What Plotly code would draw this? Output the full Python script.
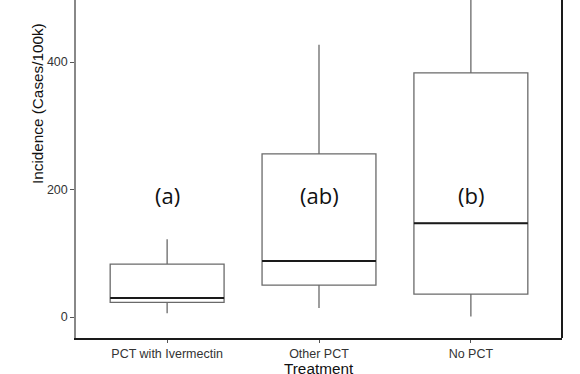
import plotly.graph_objects as go

categories = ["PCT with Ivermectin", "Other PCT", "No PCT"]
lower_whisker = [6, 14, 1]
q1_values = [23, 50, 36]
median_values = [30, 88, 147]
q3_values = [83, 256, 383]
upper_whisker = [122, 427, 560]
group_letters = ["(a)", "(ab)", "(b)"]
letter_y = [191, 191, 191]
y_ticks = [0, 200, 400]

fig = go.Figure()
fig.add_trace(go.Box(
    x=categories, q1=q1_values, median=median_values, q3=q3_values,
    lowerfence=lower_whisker, upperfence=upper_whisker,
    fillcolor="rgba(255,255,255,0)", line=dict(color="#6a6a6a", width=1.3),
    width=0.75, whiskerwidth=0, boxpoints=False, showlegend=False, hoverinfo="skip",
))
fig.add_trace(go.Box(
    x=categories, q1=median_values, median=median_values, q3=median_values,
    lowerfence=median_values, upperfence=median_values,
    fillcolor="rgba(255,255,255,0)", line=dict(color="#1a1a1a", width=2),
    width=0.75, whiskerwidth=0, boxpoints=False, showlegend=False, hoverinfo="skip",
))

for c, t, y in zip(categories, group_letters, letter_y):
    fig.add_annotation(x=c, y=y, text=t, showarrow=False,
                       font=dict(family="Open Sans", size=22, color="#111"))

# y-axis title (centred on the visible part of the original, taller panel)
fig.add_annotation(xref="paper", yref="paper", x=-39 / 486, y=1 - 104 / 338,
                   xanchor="center", yanchor="middle",
                   text="Incidence (Cases/100k)", textangle=-90, showarrow=False,
                   font=dict(family="Liberation Sans, Arial", size=15.3, color="#111"))
# x-axis title
fig.add_annotation(xref="paper", yref="paper", x=0.5, y=-30 / 338,
                   xanchor="center", yanchor="middle",
                   text="Treatment", showarrow=False,
                   font=dict(family="Liberation Sans, Arial", size=15.3, color="#111"))

fig.add_shape(type="line", xref="paper", yref="paper", x0=1, x1=1, y0=0, y1=1,
              line=dict(color="#1a1a1a", width=2))

fig.update_layout(
    width=580, height=374,
    margin=dict(l=76, r=18, t=0, b=36, autoexpand=False),
    paper_bgcolor="white", plot_bgcolor="white",
    boxmode="overlay",
    xaxis=dict(
        categoryorder="array", categoryarray=categories,
        range=[-0.6, 2.6], showgrid=False, zeroline=False,
        showline=True, linecolor="#1a1a1a", linewidth=2,
        ticks="outside", ticklen=3, tickcolor="#555", tickwidth=1,
        tickfont=dict(family="Liberation Sans, Arial", size=12.5, color="#333"),
    ),
    yaxis=dict(
        range=[-32.9, 497.3], tickvals=y_ticks, showgrid=False, zeroline=False,
        showline=True, linecolor="#888", linewidth=1.5,
        ticks="outside", ticklen=4, tickcolor="#555", tickwidth=1,
        tickfont=dict(family="Liberation Sans, Arial", size=12.5, color="#333"),
    ),
)

fig.write_html("out.html", config={"displayModeBar": False},
               post_script="document.body.style.margin='0';")
